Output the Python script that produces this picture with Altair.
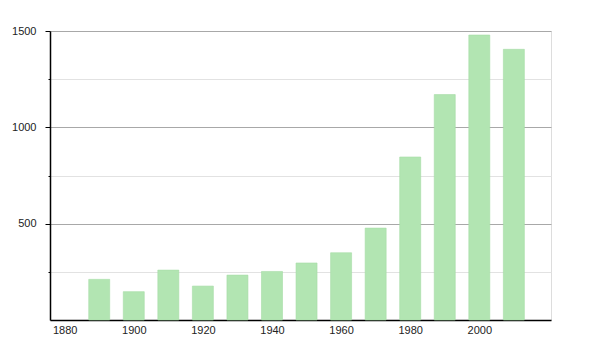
import altair as alt
import pandas as pd

years = [1890, 1900, 1910, 1920, 1930, 1940, 1950, 1960, 1970, 1980, 1990, 2000, 2010]
values = [211, 147, 259, 176, 233, 252, 296, 349, 477, 846, 1170, 1479, 1405]
x_ticks = [1880, 1900, 1920, 1940, 1960, 1980, 2000]
y_ticks = [250, 500, 750, 1000, 1250, 1500]

df = pd.DataFrame({"year": years, "value": values})

bars = alt.Chart(df).mark_bar(size=21, color="#b2e5b2", stroke="#a6dca6", strokeWidth=0.6).encode(
    x=alt.X("year:Q",
            scale=alt.Scale(domain=[1877.2, 2019.3], nice=False, zero=False),
            axis=alt.Axis(values=x_ticks, title=None, format="d", grid=False,
                          ticks=False, labelPadding=4, labelFontSize=11,
                          labelColor="#222", labelFont="Liberation Sans",
                          domainColor="#000", domainWidth=1.5)),
    y=alt.Y("value:Q",
            scale=alt.Scale(domain=[0, 1500], nice=False),
            axis=alt.Axis(values=y_ticks, title=None, format="d",
                          labelExpr="datum.value % 500 === 0 ? datum.label : ''",
                          grid=True,
                          gridColor=alt.ConditionalAxisColor(
                              condition={"test": "datum.value % 500 === 0", "value": "#a8a8a8"},
                              value="#e2e2e2"),
                          tickSize=alt.ConditionalAxisNumber(
                              condition={"test": "datum.value % 500 === 0", "value": 5},
                              value=2),
                          tickColor="#000", labelPadding=9, labelFontSize=11,
                          labelColor="#222", labelFont="Liberation Sans",
                          domainColor="#000", domainWidth=1.5)),
)

chart = bars.properties(
    width=501, height=289,
    autosize=alt.AutoSizeParams(type="none"),
    padding={"left": 50, "top": 31, "right": 49, "bottom": 30},
).configure_view(stroke=None).configure(background="white")

chart.save("out.html", embed_options={"renderer": "svg", "actions": False})
